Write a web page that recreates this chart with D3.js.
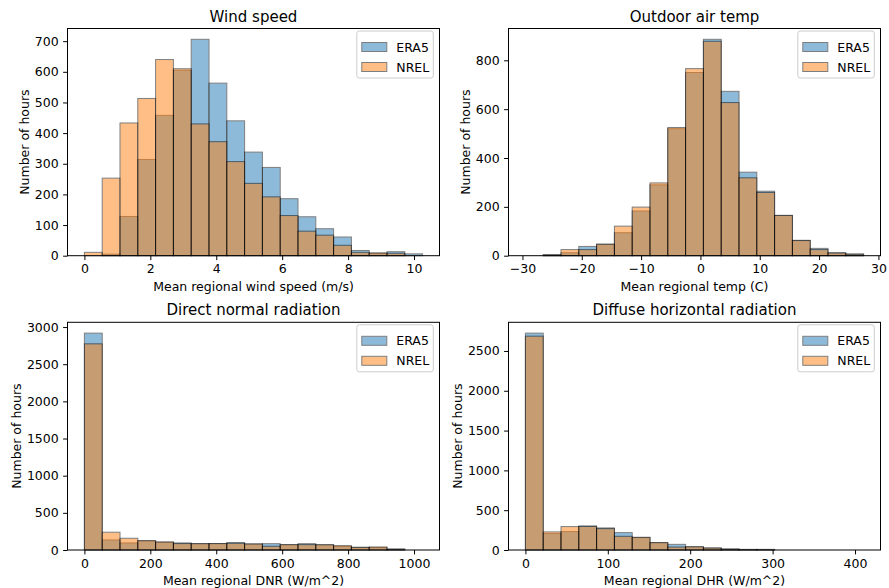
<!DOCTYPE html>
<html>
<head>
<meta charset="utf-8">
<script src="https://cdn.jsdelivr.net/npm/d3@7"></script>
<style>
  html, body { margin: 0; padding: 0; background: #fff; }
  svg { display: block; font-family: "DejaVu Sans", sans-serif; }
</style>
</head>
<body>
<svg id="chart" width="889" height="588"></svg>
<script>
// ---------------- DATA ----------------
const seriesNames = ["ERA5", "NREL"];

// Wind speed (19 bins starting at 0, width 0.54 m/s)
const windBinStart = 0;
const windBinWidth = 0.54;
const windERA5 = [0, 5, 128, 314, 458, 605, 706, 563, 440, 338, 288, 186, 127, 88, 61, 17, 8, 13, 6];
const windNREL = [11, 253, 433, 513, 640, 610, 430, 372, 307, 236, 192, 131, 80, 67, 34, 11, 9, 8, 0];
const windXTicks = [0, 2, 4, 6, 8, 10];
const windYTicks = [0, 100, 200, 300, 400, 500, 600, 700];

// Outdoor air temp (19 bins starting at -29.5 C, width 3)
const tempBinStart = -29.5;
const tempBinWidth = 3;
const tempERA5 = [0, 4, 12, 38, 47, 94, 183, 290, 520, 750, 886, 673, 342, 264, 165, 63, 30, 12, 7];
const tempNREL = [0, 3, 25, 25, 47, 121, 199, 298, 525, 766, 878, 627, 319, 259, 165, 62, 25, 11, 6];
const tempXTicks = [-30, -20, -10, 0, 10, 20, 30];
const tempYTicks = [0, 200, 400, 600, 800];

// Direct normal radiation (19 bins starting at 0, width 54)
const dnrBinStart = 0;
const dnrBinWidth = 54;
const dnrERA5 = [2918, 135, 95, 122, 105, 95, 85, 86, 100, 81, 85, 70, 85, 70, 50, 36, 32, 12, 0];
const dnrNREL = [2774, 239, 158, 126, 108, 86, 85, 86, 90, 81, 50, 72, 72, 70, 58, 36, 41, 12, 0];
const dnrXTicks = [0, 200, 400, 600, 800, 1000];
const dnrYTicks = [0, 500, 1000, 1500, 2000, 2500, 3000];

// Diffuse horizontal radiation (19 bins starting at 0, width 21.6)
const dhrBinStart = 0;
const dhrBinWidth = 21.6;
const dhrERA5 = [2724, 206, 231, 302, 277, 218, 156, 92, 71, 40, 25, 12, 8, 8, 0, 0, 0, 0, 0];
const dhrNREL = [2686, 227, 294, 296, 268, 172, 160, 92, 37, 40, 25, 12, 4, 2, 0, 0, 0, 0, 0];
const dhrXTicks = [0, 100, 200, 300, 400];
const dhrYTicks = [0, 500, 1000, 1500, 2000, 2500];

const titles = ["Wind speed", "Outdoor air temp", "Direct normal radiation", "Diffuse horizontal radiation"];
const xLabels = ["Mean regional wind speed (m/s)", "Mean regional temp (C)", "Mean regional DNR (W/m^2)", "Mean regional DHR (W/m^2)"];
const yLabel = "Number of hours";

// ---------------- LAYOUT ----------------
const colors = ["#1f77b4", "#ff7f0e"];
const panels = [
  { box: { left: 67.5, right: 439.5, top: 28.5, bottom: 255.7 }, start: windBinStart, width: windBinWidth, a: windERA5, b: windNREL, xt: windXTicks, yt: windYTicks, ylabX: 25 },
  { box: { left: 508.5, right: 880.5, top: 28.5, bottom: 255.7 }, start: tempBinStart, width: tempBinWidth, a: tempERA5, b: tempNREL, xt: tempXTicks, yt: tempYTicks, ylabX: 466 },
  { box: { left: 67.5, right: 439.5, top: 322.3, bottom: 550 }, start: dnrBinStart, width: dnrBinWidth, a: dnrERA5, b: dnrNREL, xt: dnrXTicks, yt: dnrYTicks, ylabX: 17 },
  { box: { left: 508.5, right: 880.5, top: 322.3, bottom: 550 }, start: dhrBinStart, width: dhrBinWidth, a: dhrERA5, b: dhrNREL, xt: dhrXTicks, yt: dhrYTicks, ylabX: 458 }
];

const svg = d3.select("#chart");
const FS = 12.5;

panels.forEach((p, i) => {
  const n = p.a.length;
  const end = p.start + n * p.width;
  const R = end - p.start;
  const x = d3.scaleLinear().domain([p.start - 0.05 * R, end + 0.05 * R]).range([p.box.left, p.box.right]);
  const ymax = 1.05 * d3.max(p.a.concat(p.b));
  const y = d3.scaleLinear().domain([0, ymax]).range([p.box.bottom, p.box.top]);

  const g = svg.append("g");
  const edges = d3.range(n).map(k => p.start + k * p.width);

  [p.a, p.b].forEach((vals, s) => {
    g.append("g").selectAll("rect").data(vals).join("rect")
      .attr("x", (d, k) => x(edges[k]))
      .attr("width", (d, k) => x(edges[k] + p.width) - x(edges[k]))
      .attr("y", d => y(d))
      .attr("height", d => y(0) - y(d))
      .attr("fill", colors[s])
      .attr("stroke", "#000")
      .attr("stroke-width", 1)
      .attr("opacity", 0.5);
  });

  // axes
  const xAxis = d3.axisBottom(x).tickValues(p.xt).tickSize(4.4).tickPadding(4.4).tickFormat(d => d < 0 ? "\u2212" + Math.abs(d) : d);
  const yAxis = d3.axisLeft(y).tickValues(p.yt).tickSize(4.4).tickPadding(4.4).tickFormat(d => d);
  const gx = g.append("g").attr("transform", `translate(0,${p.box.bottom})`).call(xAxis);
  const gy = g.append("g").attr("transform", `translate(${p.box.left},0)`).call(yAxis);
  [gx, gy].forEach(ax => {
    ax.select(".domain").remove();
    ax.selectAll("text").attr("font-size", FS).attr("fill", "#000").attr("font-family", "DejaVu Sans");
    ax.selectAll("line").attr("stroke", "#000").attr("stroke-width", 1);
  });

  // frame
  g.append("rect")
    .attr("x", p.box.left).attr("y", p.box.top)
    .attr("width", p.box.right - p.box.left).attr("height", p.box.bottom - p.box.top)
    .attr("fill", "none").attr("stroke", "#000").attr("stroke-width", 1);

  // title
  g.append("text").attr("x", (p.box.left + p.box.right) / 2).attr("y", p.box.top - 7)
    .attr("text-anchor", "middle").attr("font-size", 15).attr("fill", "#000").text(titles[i]);
  // x label
  g.append("text").attr("x", (p.box.left + p.box.right) / 2).attr("y", p.box.bottom + 35)
    .attr("text-anchor", "middle").attr("font-size", FS).attr("fill", "#000").text(xLabels[i]);
  // y label
  g.append("text").attr("transform", `translate(${p.ylabX},${(p.box.top + p.box.bottom) / 2}) rotate(-90)`)
    .attr("text-anchor", "middle").attr("dominant-baseline", "middle").attr("font-size", FS).attr("fill", "#000").text(yLabel);

  // legend
  const lw = 76.5, lh = 47;
  const lx = p.box.right - 6.2 - lw, ly = p.box.top + 2.5;
  const lg = g.append("g");
  lg.append("rect").attr("x", lx).attr("y", ly).attr("width", lw).attr("height", lh)
    .attr("rx", 2.5).attr("fill", "#fff").attr("fill-opacity", 0.8).attr("stroke", "#ccc").attr("stroke-width", 1);
  seriesNames.forEach((name, s) => {
    const ry = ly + 11.5 + s * 20;
    lg.append("rect").attr("x", lx + 5).attr("y", ry).attr("width", 25).attr("height", 9)
      .attr("fill", colors[s]).attr("stroke", "#000").attr("opacity", 0.5);
    lg.append("text").attr("x", lx + 39.5).attr("y", ry + 4.5).attr("dominant-baseline", "central")
      .attr("font-size", FS).attr("fill", "#000").text(name);
  });
});
</script>
</body>
</html>
